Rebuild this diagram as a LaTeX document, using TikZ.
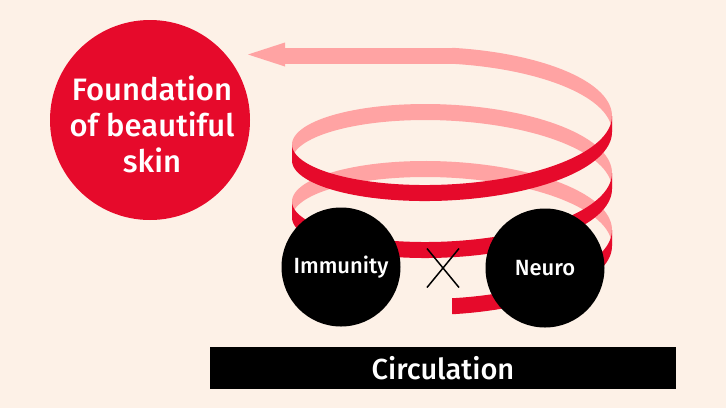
\documentclass[tikz,border=0pt]{standalone}
\usepackage{fontspec}
\newfontfamily\lab{Fira Sans}[UprightFont={* Medium}]
\definecolor{bg}{HTML}{FDF1E7}
\definecolor{rred}{HTML}{E60A2B}
\definecolor{rpink}{HTML}{FFA3A3}
\newcommand\ribpiece[3]{%
  \fill[#3] plot[domain=#1:#2,samples=70,variable=\t]
    ({452+160*cos(\t r)},{238-9.07*\t-54*sin(\t r)-8})
    -- plot[domain=#2:#1,samples=70,variable=\t]
    ({452+160*cos(\t r)},{238-9.07*\t-54*sin(\t r)+8}) -- cycle;}
\begin{document}
\begin{tikzpicture}[x=1pt,y=-1pt,
  blackdisc/.style={circle,fill=black,text=white,minimum size=119pt,inner sep=0pt,font=\lab\fontsize{22}{26}\selectfont},
  bigdisc/.style={circle,fill=rred,minimum size=200pt,inner sep=0pt},
  bigtext/.style={text=white,align=center,font=\lab\fontsize{31}{36}\selectfont},
  barbox/.style={fill=black,text=white,minimum width=466pt,minimum height=42pt,inner sep=0pt,font=\lab\fontsize{29}{34}\selectfont}]
\fill[bg] (0,0) rectangle (726,408);
\useasboundingbox (0,0) rectangle (726,408);
% back (pink) parts of the ribbon
\ribpiece{0}{3.14159}{rpink}
\ribpiece{6.28319}{9.42478}{rpink}
\ribpiece{12.56637}{14.13717}{rpink}
\fill[rpink] (284,47.8) rectangle (452.5,63.8);
\fill[rpink] (285,42.5) -- (248,54.5) -- (285,66.5) -- cycle;
% front (red) parts
\ribpiece{-1.5708}{0}{rred}
\ribpiece{3.14159}{6.28319}{rred}
\ribpiece{9.42478}{12.56637}{rred}
% nodes
\node[bigdisc] (found) at (150,120) {};
\node[bigtext] (foundtxt) at (152,124) {Foundation\\of beautiful\\skin};
\node[blackdisc] (imm) at (341,267) {Immunity};
\node[blackdisc] (neu) at (545,268) {Neuro};
\coordinate (cross) at (443,268);
\draw[line width=1.5pt] ([shift={(-16,-19.5)}]cross) -- ([shift={(16,19.5)}]cross);
\draw[line width=1.5pt] ([shift={(16,-19.5)}]cross) -- ([shift={(-16,19.5)}]cross);
\node[barbox] (circ) at (443,368) {Circulation};
\end{tikzpicture}
\end{document}
